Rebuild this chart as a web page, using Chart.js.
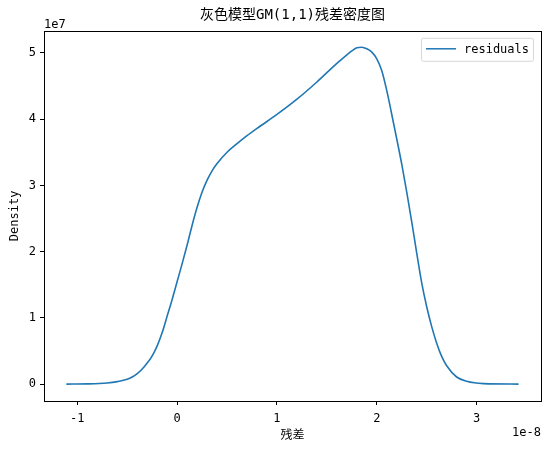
<!DOCTYPE html>
<html>
<head>
<meta charset="utf-8">
<script src="https://cdn.jsdelivr.net/npm/chart.js@4"></script>
<style>
  html, body { margin: 0; padding: 0; background: #fff; }
  #wrap { width: 550px; height: 451px; }
</style>
</head>
<body>
<div id="wrap"><canvas id="kde"></canvas></div>
<script>
// residuals in units of 1e-8, density in units of 1e7 (offset text drawn on the axes)
const residuals = [-1.11, -0.9, -0.7, -0.6, -0.5, -0.45, -0.4, -0.35, -0.3, -0.25, -0.2, -0.15, -0.1, -0.05, 0, 0.05, 0.1, 0.15, 0.2, 0.25, 0.3, 0.35, 0.4, 0.5, 0.6, 0.7, 0.8, 1.0, 1.2, 1.4, 1.6, 1.7, 1.75, 1.8, 1.85, 1.9, 1.95, 2.0, 2.05, 2.1, 2.15, 2.2, 2.25, 2.3, 2.35, 2.4, 2.45, 2.5, 2.55, 2.6, 2.65, 2.7, 2.8, 2.9, 3.07, 3.42];
const density = [0.003, 0.006, 0.02, 0.04, 0.075, 0.11, 0.16, 0.23, 0.32, 0.43, 0.58, 0.78, 1.03, 1.28, 1.55, 1.82, 2.1, 2.4, 2.67, 2.9, 3.08, 3.22, 3.33, 3.5, 3.63, 3.75, 3.86, 4.07, 4.3, 4.56, 4.84, 4.97, 5.03, 5.075, 5.085, 5.06, 5.01, 4.91, 4.73, 4.43, 4.07, 3.7, 3.32, 2.9, 2.45, 1.98, 1.53, 1.17, 0.87, 0.62, 0.42, 0.28, 0.11, 0.045, 0.01, 0.003];
const xTicks = [-1, 0, 1, 2, 3];
const yTicks = [0, 1, 2, 3, 4, 5];

const cjk = '"Noto Sans CJK SC", sans-serif';
const mono = '"DejaVu Sans Mono", monospace';

const points = residuals.map((x, i) => ({ x: x, y: density[i] }));

// axes frame, offset labels and the legend box inside the plot
const framePlugin = {
  id: 'frame',
  afterDraw(chart) {
    const ctx = chart.ctx;
    const a = chart.chartArea;
    ctx.save();
    ctx.strokeStyle = '#000';
    ctx.lineWidth = 1;
    ctx.strokeRect(Math.round(a.left) + 0.5, Math.round(a.top) + 0.5,
      Math.round(a.right - a.left), Math.round(a.bottom - a.top));

    ctx.fillStyle = '#000';
    ctx.font = '12px ' + mono;
    ctx.textBaseline = 'alphabetic';
    ctx.textAlign = 'left';
    ctx.fillText('1e7', a.left, a.top - 3);
    ctx.textAlign = 'right';
    ctx.fillText('1e-8', a.right, a.bottom + 35);

    // legend
    const ds = chart.data.datasets[0];
    const bx = a.right - 120, by = a.top + 7, bw = 112, bh = 23;
    ctx.fillStyle = 'rgba(255,255,255,0.8)';
    ctx.strokeStyle = '#d6d6d6';
    ctx.beginPath();
    ctx.roundRect(bx + 0.5, by + 0.5, bw, bh, 2);
    ctx.fill();
    ctx.stroke();
    ctx.strokeStyle = ds.borderColor;
    ctx.lineWidth = 1.5;
    ctx.beginPath();
    ctx.moveTo(bx + 5, by + 11);
    ctx.lineTo(bx + 35, by + 11);
    ctx.stroke();
    ctx.fillStyle = '#000';
    ctx.font = '12px ' + mono;
    ctx.textAlign = 'left';
    ctx.textBaseline = 'middle';
    ctx.fillText(ds.label, bx + 43, by + 12);
    ctx.restore();
  }
};

new Chart(document.getElementById('kde'), {
  type: 'line',
  data: {
    datasets: [{
      label: 'residuals',
      data: points,
      borderColor: '#1f77b4',
      borderWidth: 1.6,
      pointRadius: 0,
      fill: false,
      cubicInterpolationMode: 'monotone'
    }]
  },
  options: {
    responsive: true,
    maintainAspectRatio: false,
    animation: false,
    layout: { padding: { left: 0, right: 9, top: 0, bottom: 0 } },
    plugins: {
      legend: { display: false },
      tooltip: { enabled: false },
      title: {
        display: true,
        text: '灰色模型GM(1,1)残差密度图',
        fullSize: false,
        color: '#000',
        font: { family: '"DejaVu Sans Mono", ' + cjk, size: 14, weight: 'normal', lineHeight: 1.2 },
        padding: { top: 7, bottom: 7 }
      }
    },
    scales: {
      x: {
        type: 'linear',
        min: -1.334,
        max: 3.645,
        afterBuildTicks: (s) => { s.ticks = xTicks.map(v => ({ value: v })); },
        afterFit: (s) => { s.height = 50; },
        grid: { drawOnChartArea: false, drawTicks: true, tickLength: 4, tickColor: '#000' },
        border: { display: false },
        ticks: { color: '#000', padding: 7, font: { family: mono, size: 12 }, maxRotation: 0 },
        title: {
          display: true,
          text: '残差',
          color: '#000',
          font: { family: cjk, size: 12 },
          padding: { top: 0, bottom: 9 }
        }
      },
      y: {
        type: 'linear',
        min: -0.252,
        max: 5.332,
        afterBuildTicks: (s) => { s.ticks = yTicks.map(v => ({ value: v })); },
        afterFit: (s) => { s.width = 44; },
        grid: { drawOnChartArea: false, drawTicks: true, tickLength: 4, tickColor: '#000' },
        border: { display: false },
        ticks: { color: '#000', padding: 4, font: { family: mono, size: 12 } },
        title: {
          display: true,
          text: 'Density',
          color: '#000',
          font: { family: mono, size: 12 },
          padding: { top: 8, bottom: 0 }
        }
      }
    }
  },
  plugins: [framePlugin]
});
</script>
</body>
</html>
